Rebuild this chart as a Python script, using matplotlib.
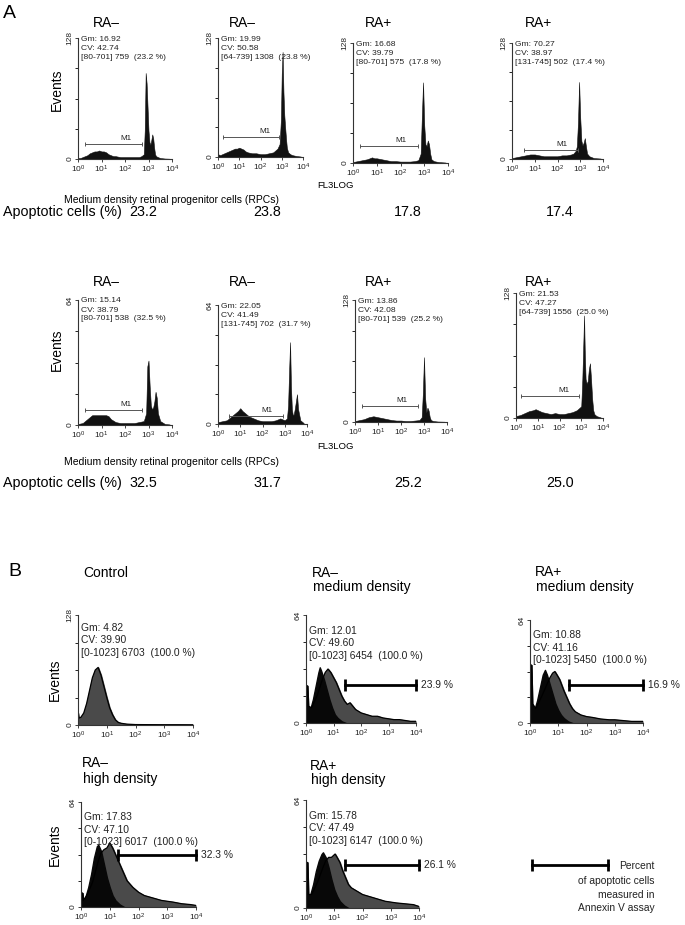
import numpy as np
import matplotlib.pyplot as plt
from matplotlib.ticker import NullLocator

plt.rcParams['font.family'] = ['Liberation Sans', 'DejaVu Sans']

# ---- Panel A data (x = log10 of FL3 intensity, y = events) ----
a1_pos = [0.0, 0.1, 0.2, 0.3, 0.4, 0.5, 0.6, 0.7, 0.8, 0.9, 1.0, 1.1, 1.2, 1.3, 1.4, 1.5, 1.6, 1.8,
          2.0, 2.2, 2.4, 2.6, 2.7, 2.8, 2.84, 2.88, 2.92, 2.96, 3.0, 3.04, 3.08, 3.12, 3.16, 3.2,
          3.24, 3.28, 3.32, 3.4, 3.5, 3.7, 3.9]
a1_cnt = [1, 1, 2, 3, 4, 6, 7, 8, 8, 9, 8, 8, 7, 5, 4, 3, 3, 2, 2, 2, 2, 2, 3, 5, 30, 91, 80, 55,
          30, 18, 15, 20, 26, 22, 12, 5, 3, 2, 1, 0.5, 0.3]
a2_pos = [0.0, 0.1, 0.2, 0.3, 0.4, 0.5, 0.6, 0.7, 0.8, 0.9, 1.0, 1.1, 1.2, 1.3, 1.4, 1.6, 1.8,
          2.0, 2.2, 2.4, 2.6, 2.7, 2.8, 2.9, 2.96, 3.0, 3.04, 3.08, 3.12, 3.16, 3.2, 3.24, 3.3,
          3.4, 3.5, 3.7, 3.9]
a2_cnt = [3, 2, 3, 4, 5, 6, 7, 8, 9, 9, 10, 9, 8, 6, 5, 4, 4, 3, 3, 4, 5, 7, 9, 14, 40, 90, 113,
          70, 45, 32, 20, 10, 5, 3, 2, 1, 0.5]
a3_pos = [0.0, 0.2, 0.4, 0.6, 0.7, 0.8, 0.9, 1.0, 1.2, 1.4, 1.6, 1.8, 2.0, 2.2, 2.4, 2.6, 2.75,
          2.85, 2.9, 2.95, 3.0, 3.05, 3.1, 3.15, 3.2, 3.25, 3.3, 3.4, 3.6, 3.9]
a3_cnt = [1, 2, 3, 4, 5, 6, 5, 5, 4, 3, 2, 2, 1.5, 1.5, 1.5, 2, 3, 10, 50, 86, 40, 20, 18, 24,
          20, 10, 4, 2, 1, 0.5]
a4_pos = [0.0, 0.2, 0.4, 0.6, 0.8, 1.0, 1.2, 1.4, 1.6, 1.8, 2.0, 2.2, 2.4, 2.6, 2.7, 2.8, 2.85,
          2.9, 2.95, 3.0, 3.05, 3.1, 3.15, 3.2, 3.25, 3.3, 3.4, 3.6, 3.9]
a4_cnt = [1, 2, 3, 4, 5, 5, 4, 3, 3, 3, 3, 4, 4, 5, 6, 9, 14, 40, 85, 45, 20, 15, 18, 23, 14, 6,
          3, 1, 0.5]
a5_pos = [0.0, 0.2, 0.4, 0.5, 0.6, 0.8, 1.0, 1.2, 1.3, 1.4, 1.6, 1.8, 2.0, 2.2, 2.4, 2.6, 2.8,
          2.9, 2.95, 3.0, 3.05, 3.1, 3.15, 3.2, 3.25, 3.3, 3.35, 3.4, 3.5, 3.7, 3.9]
a5_cnt = [0.5, 1, 3, 4, 5, 5, 5, 5, 4.5, 3, 1.5, 1, 1, 1, 1, 1.5, 2, 6, 30, 33, 20, 10, 8, 9, 12,
          17, 14, 6, 2, 0.5, 0.3]
a6_pos = [0.0, 0.2, 0.4, 0.6, 0.8, 0.9, 1.0, 1.1, 1.2, 1.4, 1.6, 1.8, 2.0, 2.2, 2.4, 2.6, 2.8,
          2.9, 3.0, 3.1, 3.15, 3.2, 3.24, 3.28, 3.32, 3.36, 3.4, 3.45, 3.5, 3.55, 3.6, 3.7, 3.85]
a6_cnt = [1, 1.5, 2, 4, 6, 7, 8.5, 7, 6, 4, 3, 2, 1.5, 1.5, 1.5, 2, 3, 2.5, 2, 3, 10, 30, 44, 20,
          8, 5, 5, 8, 12, 16, 8, 2, 0.5]
a7_pos = [0.0, 0.2, 0.4, 0.6, 0.8, 1.0, 1.2, 1.4, 1.6, 1.8, 2.0, 2.2, 2.4, 2.6, 2.8, 2.9, 2.95,
          3.0, 3.05, 3.1, 3.15, 3.2, 3.25, 3.3, 3.4, 3.6, 3.9]
a7_cnt = [1, 2, 3, 5, 6, 5, 4, 3, 2, 1.5, 1.5, 1, 1, 1.5, 2, 5, 30, 68, 25, 10, 15, 12, 5, 2, 1,
          0.5, 0.3]
a8_pos = [0.0, 0.2, 0.4, 0.6, 0.8, 0.9, 1.0, 1.2, 1.4, 1.6, 1.8, 2.0, 2.2, 2.4, 2.6, 2.8, 2.9,
          3.0, 3.05, 3.1, 3.13, 3.16, 3.2, 3.25, 3.3, 3.35, 3.4, 3.45, 3.5, 3.55, 3.6, 3.7, 3.9]
a8_cnt = [2, 3, 5, 7, 8, 9, 8, 6, 5, 4, 5, 4, 4, 5, 6, 8, 10, 12, 40, 80, 105, 70, 40, 35, 38, 50,
          56, 40, 20, 8, 4, 2, 0.5]

a_titles = ['RA–', 'RA–', 'RA+', 'RA+', 'RA–', 'RA–', 'RA+', 'RA+']
a_ymax = [128, 128, 128, 128, 64, 64, 128, 128]
a_gm = ['16.92', '19.99', '16.68', '70.27', '15.14', '22.05', '13.86', '21.53']
a_cv = ['42.74', '50.58', '39.79', '38.97', '38.79', '41.49', '42.08', '47.27']
a_gate = [(80, 701), (64, 739), (80, 701), (131, 745), (80, 701), (131, 745), (80, 701), (64, 739)]
a_events = [759, 1308, 575, 502, 538, 702, 539, 1556]
a_pct = [23.2, 23.8, 17.8, 17.4, 32.5, 31.7, 25.2, 25.0]
a_m1_y = [16, 21.5, 18, 10, 7.7, 4.3, 16.8, 22.5]

# ---- Panel B data (black = control-like, grey = sample) ----
ctrl_pos = [0.0, 0.03, 0.1, 0.2, 0.3, 0.4, 0.5, 0.6, 0.7, 0.8, 0.9, 1.0, 1.1, 1.2, 1.3, 1.4, 1.5,
            1.7, 2.0, 2.5, 3.0, 3.5, 4.0]
ctrl_cnt = [14, 8, 9, 14, 25, 40, 55, 64, 67, 58, 45, 32, 20, 12, 6, 3, 2, 1, 0.5, 0.4, 0.3, 0.3, 0.2]

mneg_blk_pos = [0.0, 0.05, 0.08, 0.15, 0.25, 0.35, 0.45, 0.5, 0.55, 0.65, 0.75, 0.85, 0.95, 1.05,
                1.15, 1.3, 1.45]
mneg_blk_cnt = [22, 22, 10, 8, 14, 22, 30, 33, 31, 26, 20, 14, 9, 5, 3, 1, 0]
mneg_gry_pos = [0.0, 0.05, 0.08, 0.2, 0.4, 0.6, 0.7, 0.8, 0.9, 1.0, 1.1, 1.2, 1.3, 1.4, 1.5, 1.6,
                1.7, 1.8, 2.0, 2.2, 2.4, 2.6, 2.8, 3.0, 3.2, 3.4, 3.6, 3.8, 3.98]
mneg_gry_cnt = [22, 22, 10, 9, 16, 26, 30, 32, 30, 27, 24, 20, 16, 13, 11, 12, 10, 8, 6, 5, 4, 4,
                3, 2.5, 2, 2, 1.5, 1, 1]

mpos_blk_pos = [0.0, 0.05, 0.08, 0.15, 0.25, 0.35, 0.45, 0.53, 0.6, 0.7, 0.8, 0.9, 1.0, 1.1, 1.2,
                1.35, 1.5]
mpos_blk_cnt = [36, 36, 12, 8, 14, 22, 30, 33, 30, 24, 18, 12, 8, 5, 3, 1, 0]
mpos_gry_pos = [0.0, 0.05, 0.08, 0.2, 0.4, 0.6, 0.7, 0.8, 0.88, 0.95, 1.05, 1.2, 1.3, 1.4, 1.5,
                1.6, 1.8, 2.0, 2.2, 2.5, 2.8, 3.0, 3.3, 3.6, 3.98]
mpos_gry_cnt = [36, 36, 12, 9, 16, 24, 28, 31, 32, 30, 27, 20, 16, 12, 9, 7, 5, 4, 3.5, 2.5, 2, 2,
                1.5, 1, 1]

hneg_blk_pos = [0.0, 0.05, 0.08, 0.15, 0.25, 0.35, 0.45, 0.55, 0.6, 0.7, 0.8, 0.9, 1.0, 1.1, 1.2,
                1.35, 1.5]
hneg_blk_cnt = [8.5, 8.5, 4, 6, 12, 20, 30, 37, 38, 34, 26, 18, 12, 7, 4, 1.5, 0]
hneg_gry_pos = [0.0, 0.05, 0.08, 0.2, 0.4, 0.6, 0.7, 0.8, 0.9, 1.0, 1.1, 1.2, 1.3, 1.4, 1.5, 1.6,
                1.7, 1.8, 2.0, 2.2, 2.4, 2.6, 2.8, 3.0, 3.2, 3.5, 3.8, 3.98]
hneg_gry_cnt = [8.5, 8.5, 4, 7, 15, 28, 33, 35, 36, 39, 36, 32, 28, 24, 20, 16, 14, 12, 9, 7, 6, 5,
                4, 3.5, 3, 2, 1.5, 1]

hpos_blk_pos = [0.0, 0.05, 0.08, 0.15, 0.25, 0.35, 0.45, 0.55, 0.6, 0.7, 0.8, 0.9, 1.0, 1.1, 1.2,
                1.35, 1.5]
hpos_blk_cnt = [27, 27, 8, 8, 14, 22, 28, 32, 33, 30, 24, 17, 11, 7, 4, 1.5, 0]
hpos_gry_pos = [0.0, 0.05, 0.08, 0.2, 0.4, 0.6, 0.7, 0.8, 0.9, 1.03, 1.1, 1.2, 1.3, 1.4, 1.5, 1.6,
                1.7, 1.8, 2.0, 2.2, 2.4, 2.6, 2.8, 3.0, 3.2, 3.5, 3.8, 3.98]
hpos_gry_cnt = [27, 27, 8, 8, 15, 24, 28, 30, 30, 32, 30, 27, 22, 18, 14, 12, 11, 10, 8, 7, 6, 5,
                4, 3.5, 3, 2.5, 2, 1]

b_gm = ['12.01', '10.88', '17.83', '15.78']
b_cv = ['49.60', '41.16', '47.10', '47.49']
b_events = [6454, 5450, 6017, 6147]
b_gate_lo = [26, 24, 19.5, 24]
b_bar_y = [22.5, 23.6, 31.7, 25.5]
b_pct = ['23.9 %', '16.9 %', '32.3 %', '26.1 %']

# ---- figure ----
W, H = 685, 925
fig = plt.figure(figsize=(W / 100, H / 100), dpi=100)


def box(x0, x1, y0, y1):
    return [x0 / W, 1 - y1 / H, (x1 - x0) / W, (y1 - y0) / H]


def ft(x, y, s, **kw):
    kw.setdefault('va', 'center')
    return fig.text(x / W, 1 - y / H, s, **kw)


def hist_axes(rect, ymax, lsize=6):
    ax = fig.add_axes(rect)
    ax.set_xscale('log')
    ax.set_xlim(1, 1e4)
    ax.set_ylim(0, ymax)
    ax.spines[['top', 'right']].set_visible(False)
    for s in ['left', 'bottom']:
        ax.spines[s].set_linewidth(0.8)
        ax.spines[s].set_color('#333333')
    ax.set_xticks([1, 10, 100, 1000, 10000])
    ax.xaxis.set_minor_locator(NullLocator())
    ax.set_yticks([0, ymax])
    ax.set_yticks([ymax / 4, ymax / 2, 3 * ymax / 4], minor=True)
    ax.set_yticklabels(['0', str(ymax)], rotation=90, va='center')
    ax.tick_params(labelsize=lsize, length=2, pad=1.5, width=0.6, colors='#222222')
    ax.tick_params(axis='y', which='minor', length=2, width=0.6)
    ax.patch.set_alpha(0)
    return ax


# Panel A
ft(3, 13, 'A', fontsize=14, ha='left')
a_pos = [a1_pos, a2_pos, a3_pos, a4_pos, a5_pos, a6_pos, a7_pos, a8_pos]
a_cnt = [a1_cnt, a2_cnt, a3_cnt, a4_cnt, a5_cnt, a6_cnt, a7_cnt, a8_cnt]
a_boxes = [(78, 172, 38, 159), (218, 303, 38, 157), (353, 448, 43, 163), (512, 603, 43, 159),
           (78, 172, 300, 425), (218, 307, 305, 424), (355, 447, 300, 422), (516, 603, 293, 418)]
title_x = [106, 242, 378, 539]
pct_x = [143, 267, 408, 560]
for i in range(8):
    ax = hist_axes(box(*a_boxes[i]), a_ymax[i])
    x = 10 ** np.array(a_pos[i])
    ax.fill_between(x, a_cnt[i], color='#111111', lw=0.4, edgecolor='#111111')
    lo, hi = a_gate[i]
    xs = [10 ** (lo / 256), 10 ** (hi / 256)]
    ax.plot(xs, [a_m1_y[i]] * 2, color='#555555', lw=0.7, marker='|', ms=3, mew=0.7)
    ax.text(10 ** (hi / 256 - 0.7), a_m1_y[i] + a_ymax[i] * 0.015, 'M1', fontsize=5.8,
            ha='center', va='bottom', color='#222222')
    ax.text(0.03, 1.02, 'Gm: %s\nCV: %s\n[%d-%d] %d  (%.1f %%)' % (a_gm[i], a_cv[i], lo, hi,
            a_events[i], a_pct[i]), transform=ax.transAxes, fontsize=6.1, va='top', ha='left',
            linespacing=1.4, color='#222222')
    row_top = 23 if i < 4 else 282
    ft(title_x[i % 4], row_top, a_titles[i], fontsize=10, ha='center')
    pct_y = 212 if i < 4 else 483
    ft(pct_x[i % 4], pct_y, '%.1f' % a_pct[i], fontsize=10.3, ha='center')

for yoff, ev_y in [(0, 90), (262, 350)]:
    ft(57, ev_y, 'Events', fontsize=10, ha='center', rotation=90)
    ft(317, 185 + yoff, 'FL3LOG', fontsize=6.8, ha='left')
    ft(172, 200 + yoff, 'Medium density retinal progenitor cells (RPCs)', fontsize=7.5,
       ha='center')
    ft(3, 212 + (0 if yoff == 0 else 271), 'Apoptotic cells (%)', fontsize=10.3, ha='left')

# Panel B
ft(8, 572, 'B', fontsize=14, ha='left')
grey = '#4a4a4a'

ax = hist_axes(box(78, 193, 615, 725), 128, lsize=6)
ax.fill_between(10 ** np.array(ctrl_pos), ctrl_cnt, color=grey)
ax.plot(10 ** np.array(ctrl_pos), ctrl_cnt, color='black', lw=0.9)
ax.text(0.03, 0.93, 'Gm: 4.82\nCV: 39.90\n[0-1023] 6703  (100.0 %)', transform=ax.transAxes,
        fontsize=7.4, va='top', ha='left', linespacing=1.3, color='#222222')
ft(83, 573, 'Control', fontsize=10, ha='left')
ft(55, 680, 'Events', fontsize=10, ha='center', rotation=90)

b_boxes = [(306, 416, 615, 723), (530, 643, 620, 723), (81, 196, 802, 907), (306, 419, 800, 908)]
b_blk = [(mneg_blk_pos, mneg_blk_cnt), (mpos_blk_pos, mpos_blk_cnt),
         (hneg_blk_pos, hneg_blk_cnt), (hpos_blk_pos, hpos_blk_cnt)]
b_gry = [(mneg_gry_pos, mneg_gry_cnt), (mpos_gry_pos, mpos_gry_cnt),
         (hneg_gry_pos, hneg_gry_cnt), (hpos_gry_pos, hpos_gry_cnt)]
b_title = [('RA–', 'medium density', 312, 573, 587), ('RA+', 'medium density', 535, 572, 587),
           ('RA–', 'high density', 82, 763, 779), ('RA+', 'high density', 310, 766, 780)]
for i in range(4):
    ax = hist_axes(box(*b_boxes[i]), 64, lsize=6)
    gp, gc = b_gry[i]
    bp, bc = b_blk[i]
    ax.fill_between(10 ** np.array(gp), gc, color=grey)
    ax.plot(10 ** np.array(gp), gc, color='black', lw=0.9)
    ax.fill_between(10 ** np.array(bp), bc, color='#080808')
    ax.text(0.03, 0.9, 'Gm: %s\nCV: %s\n[0-1023] %d  (100.0 %%)' % (b_gm[i], b_cv[i],
            b_events[i]), transform=ax.transAxes, fontsize=7.4, va='top', ha='left',
            linespacing=1.3, color='#222222')
    ax.plot([b_gate_lo[i], 1e4], [b_bar_y[i]] * 2, color='black', lw=2, marker='|', ms=8,
            mew=2, clip_on=False)
    ax.text(1.5e4, b_bar_y[i], b_pct[i], fontsize=7.4, va='center', ha='left', color='#222222')
    t1, t2, tx, ty1, ty2 = b_title[i]
    ft(tx, ty1, t1, fontsize=10, ha='left')
    ft(tx + 1, ty2, t2, fontsize=10, ha='left')
ft(55, 845, 'Events', fontsize=10, ha='center', rotation=90)

# legend bar for panel B
lax = fig.add_axes(box(520, 660, 850, 915))
lax.set_xlim(520, 660)
lax.set_ylim(915, 850)
lax.axis('off')
lax.plot([532, 608], [865, 865], color='black', lw=2, marker='|', ms=8, mew=2)
for txt, yy in [('Percent', 866), ('of apoptotic cells', 881), ('measured in', 895),
                ('Annexin V assay', 908)]:
    lax.text(655, yy, txt, fontsize=7.4, ha='right', va='center', color='#222222')

fig.savefig('out.png', dpi=100)
